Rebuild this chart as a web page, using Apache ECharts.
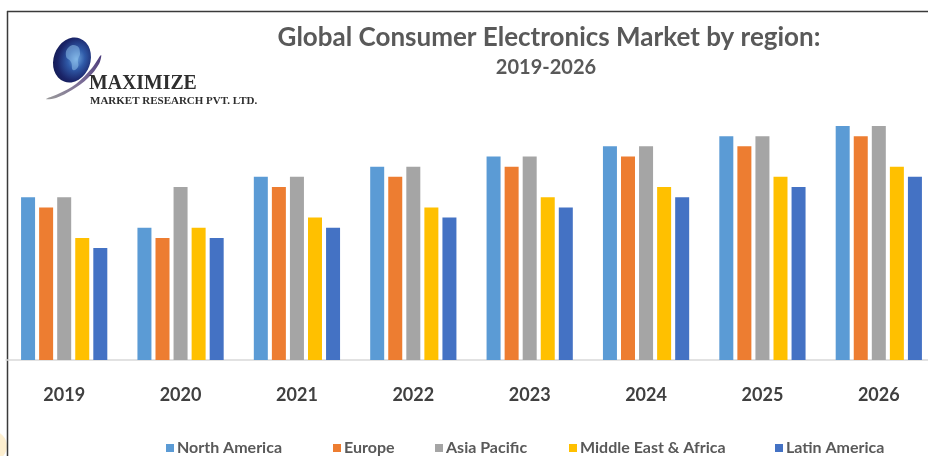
<!DOCTYPE html>
<html>
<head>
<meta charset="utf-8">
<script src="https://cdn.jsdelivr.net/npm/echarts@6/dist/echarts.min.js"></script>
<style>
  html, body { margin: 0; padding: 0; background: #ffffff; }
  #chart { width: 928px; height: 456px; }
</style>
</head>
<body>
<div id="chart"></div>
<script>
// Categories and market values by region (index units)
const years = ['2019', '2020', '2021', '2022', '2023', '2024', '2025', '2026'];
const northAmerica = [16, 13, 18, 19, 20, 21, 22, 23];
const europe       = [15, 12, 17, 18, 19, 20, 21, 22];
const asiaPacific  = [16, 17, 18, 19, 20, 21, 22, 23];
const middleEastAfrica = [12, 13, 14, 15, 16, 17, 18, 19];
const latinAmerica = [11, 12, 13, 14, 15, 16, 17, 18];

const seriesNames = ['North America', 'Europe', 'Asia Pacific', 'Middle East & Africa', 'Latin America'];
const seriesValues = [northAmerica, europe, asiaPacific, middleEastAfrica, latinAmerica];
const palette = ['#5B9BD5', '#ED7D31', '#A5A5A5', '#FFC000', '#4472C4'];

// horizontal start of each legend entry
const legendLeft = [166, 333, 435, 569, 775];

const chart = echarts.init(document.getElementById('chart'), null, { renderer: 'canvas' });

const series = seriesNames.map((name, i) => ({
  name: name,
  type: 'bar',
  data: seriesValues[i],
  barWidth: 14,
  barGap: '29%',
  itemStyle: { color: palette[i] },
  emphasis: { disabled: true }
}));

const legends = seriesNames.map((name, i) => ({
  data: [name],
  left: legendLeft[i], top: 440,
  padding: 0,
  itemWidth: 8, itemHeight: 8,
  icon: 'rect',
  selectedMode: false,
  textStyle: { fontFamily: 'Lato', fontWeight: 'bold', fontSize: 16, color: '#595959', padding: [0, 0, 0, -2] }
}));

chart.setOption({
  backgroundColor: '#ffffff',
  animation: false,
  color: palette,
  title: [
    {
      text: 'Global Consumer Electronics Market by region:',
      left: 544, top: 20, textAlign: 'center',
      textStyle: { fontFamily: 'Lato', fontWeight: 'bold', fontSize: 26, color: '#595959' }
    },
    {
      text: '2019-2026',
      left: 541, top: 53, textAlign: 'center',
      textStyle: { fontFamily: 'Lato', fontWeight: 'bold', fontSize: 20, color: '#595959' }
    }
  ],
  legend: legends,
  grid: { left: 6, width: 931, top: 126, bottom: 96, containLabel: false, outerBoundsMode: 'none' },
  xAxis: {
    type: 'category',
    data: years,
    axisLine: { show: true, lineStyle: { color: '#D9D9D9', width: 1.5 } },
    axisTick: { show: false },
    axisLabel: {
      margin: 26,
      fontFamily: 'Lato', fontWeight: 'bold', fontSize: 18, color: '#404040'
    }
  },
  yAxis: {
    type: 'value', min: 0, max: 23, interval: 1,
    show: false,
    splitLine: { show: false }
  },
  series: series,
  graphic: [
    // faint yellow tint in the lower-left corner
    { type: 'circle', shape: { cx: -8, cy: 446, r: 15 }, style: { fill: 'rgba(252,226,170,0.55)' }, silent: true },
    // frame lines
    { type: 'line', shape: { x1: 7.5, y1: 11, x2: 7.5, y2: 456 }, style: { stroke: '#3a3a3a', lineWidth: 1.5 }, silent: true },
    { type: 'line', shape: { x1: 7, y1: 11.5, x2: 928, y2: 11.5 }, style: { stroke: '#3a3a3a', lineWidth: 1.5 }, silent: true },
    // logo swoosh
    {
      type: 'polygon', silent: true,
      shape: { points: [[46, 99], [58, 94], [76, 84], [92, 68], [101, 55], [99, 64], [88, 78], [72, 90], [56, 98]], smooth: 0.35 },
      style: { fill: new echarts.graphic.LinearGradient(0, 1, 1, 0, [
        { offset: 0, color: '#9a9a9a' }, { offset: 0.55, color: '#7a6c96' }, { offset: 1, color: '#4b3b7a' }
      ]) }
    },
    // logo globe
    {
      type: 'circle', silent: true,
      x: 72, y: 60, rotation: -0.35, scaleX: 0.8, scaleY: 1,
      shape: { cx: 0, cy: 0, r: 23 },
      style: { fill: new echarts.graphic.RadialGradient(0.6, 0.45, 0.75, [
        { offset: 0, color: '#6fa6de' }, { offset: 0.3, color: '#2f5aa8' },
        { offset: 0.65, color: '#1a2468' }, { offset: 1, color: '#0f1442' }
      ]) }
    },
    {
      type: 'polygon', silent: true,
      shape: { points: [[69, 47], [77, 46], [80, 53], [78, 60], [78, 67], [73, 70], [71, 62], [66, 56]], smooth: 0.5 },
      style: { fill: 'rgba(150,200,240,0.5)' }
    },
    // logo wordmark
    {
      type: 'text', silent: true, x: 89, y: 83, scaleX: 0.9,
      style: { text: 'MAXIMIZE', fontFamily: 'Liberation Serif', fontWeight: 'bold', fontSize: 22,
               fill: '#2e2e2e', verticalAlign: 'middle', align: 'left' }
    },
    {
      type: 'text', silent: true, x: 90, y: 101.5, scaleX: 1,
      style: { text: 'MARKET RESEARCH PVT. LTD.', fontFamily: 'Liberation Serif', fontWeight: 'bold', fontSize: 11,
               fill: '#2e2e2e', verticalAlign: 'middle', align: 'left' }
    }
  ]
});
</script>
</body>
</html>
